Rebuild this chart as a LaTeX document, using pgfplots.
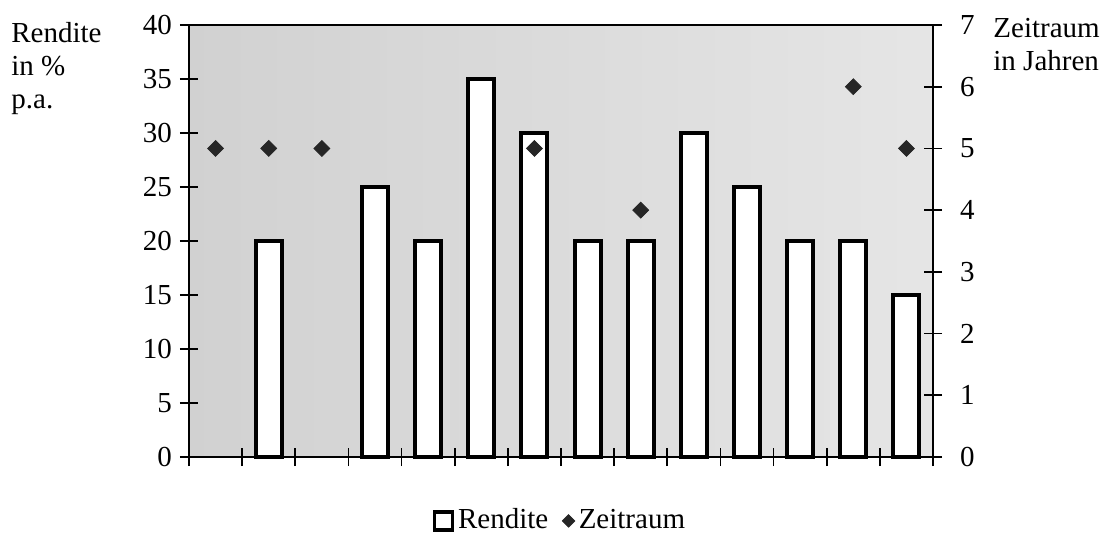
\documentclass[border=0pt]{standalone}
\usepackage{fontspec}
\setmainfont{Liberation Serif}
\usepackage{pgfplots}
\pgfplotsset{compat=1.18}
\begin{document}
\fontsize{14.5bp}{16.5bp}\selectfont
\begin{tikzpicture}[font=\fontsize{14.5bp}{16.5bp}\selectfont]
\useasboundingbox (-94.5bp,-40bp) rectangle (459.5bp,228.5bp);
\pgfplotsset{
  base/.style={
    scale only axis, width=372bp, height=216bp,
    xmin=-0.5, xmax=13.5, ymin=0,
    tick align=center, major tick length=9bp,
    tick style={black, line width=0.8bp},
    /pgf/number format/assume math mode=true,
    axis line style={line width=1bp},
  },
}
\begin{axis}[base,
  ymax=40, ytick={0,5,...,40},
  xtick={-0.5,0.5,...,13.5}, xticklabels={},
  xtick pos=bottom, ytick pos=left,
  yticklabel style={xshift=1bp},
  axis background/.style={left color=black!18, right color=black!10},
  legend style={at={(0.5,-0.148)}, anchor=center, draw=none, fill=none,
    legend columns=2, font=\fontsize{14.5bp}{16.5bp}\selectfont,
    /tikz/every even column/.append style={column sep=5bp}},
  clip=false]
\addplot[ybar, bar width=13bp, draw=black, line width=2bp, fill=white,
  legend image code/.code={\draw[line width=1.6bp, fill=white] (0bp,-4.5bp) rectangle (9bp,4.5bp);}]
  coordinates {(1,20)(3,25)(4,20)(5,35)(6,30)(7,20)(8,20)(9,30)(10,25)(11,20)(12,20)(13,15)};
\addlegendentry{Rendite}
\addlegendimage{only marks, mark=square*, mark options={rotate=45, fill=black!85, draw=black!85}, mark size=2.2bp}
\addlegendentry{Zeitraum}
\end{axis}
\begin{axis}[base,
  ymax=7, ytick={0,...,7},
  yticklabel style={xshift=4bp},
  axis y line*=right, axis x line=none]
\addplot[only marks, mark=square*, mark size=2.8bp,
  mark options={rotate=45, fill=black!85, draw=black!85}]
  coordinates {(0,5)(1,5)(2,5)(6,5)(8,4)(12,6)(13,5)};
\end{axis}
\node[anchor=north west, align=left, inner sep=0pt] at (-89bp,217.5bp) {Rendite\\in \%\\p.a.};
\node[anchor=north west, align=left, inner sep=0pt] at (402bp,219.5bp) {Zeitraum\\in Jahren};
\end{tikzpicture}
\end{document}
